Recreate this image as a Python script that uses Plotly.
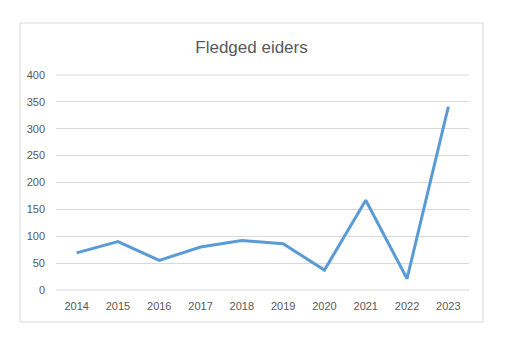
import plotly.graph_objects as go

years = ["2014", "2015", "2016", "2017", "2018", "2019", "2020", "2021", "2022", "2023"]
fledged = [69, 90, 55, 80, 92, 86, 37, 167, 21, 341]

y_ticks = [0, 50, 100, 150, 200, 250, 300, 350, 400]

fig = go.Figure()
fig.add_trace(go.Scatter(
    x=years,
    y=fledged,
    mode="lines",
    line=dict(color="#5B9BD5", width=3),
    hoverinfo="x+y",
))

tick_font = dict(family="Liberation Sans, Arial, sans-serif", size=11, color="#595959")

# gridlines at the bottom and top edges of the plot area, drawn in paper
# coordinates so they are not clipped by the plot area
edge_lines = [
    dict(type="line", xref="paper", yref="paper", x0=0, x1=1, y0=v, y1=v,
         line=dict(color="#D9D9D9", width=1), layer="below")
    for v in (0, 1)
]

fig.update_layout(
    width=510,
    height=340,
    margin=dict(l=56, r=41, t=75, b=50),
    paper_bgcolor="white",
    plot_bgcolor="white",
    showlegend=False,
    title=dict(
        text="Fledged eiders",
        x=251.5 / 510,
        xanchor="center",
        xref="container",
        y=1 - 47 / 340,
        yanchor="middle",
        font=dict(family="Liberation Sans, Arial, sans-serif", size=17, color="#595959"),
    ),
    xaxis=dict(
        type="category",
        range=[-0.5, 9.5],
        showgrid=False,
        showline=False,
        zeroline=False,
        ticks="",
        tickfont=tick_font,
        ticklabelstandoff=8,
    ),
    yaxis=dict(
        range=[y_ticks[0], y_ticks[-1]],
        tickvals=y_ticks,
        showgrid=True,
        gridcolor="#D9D9D9",
        gridwidth=1,
        zeroline=False,
        showline=False,
        ticks="",
        tickfont=tick_font,
        ticklabelstandoff=10,
    ),
    shapes=edge_lines + [
        # outer chart border
        dict(type="rect", xref="paper", yref="paper",
             x0=(20 - 56) / 413, x1=(483 - 56) / 413,
             y0=(290 - 322) / 215, y1=(290 - 23) / 215,
             line=dict(color="#D9D9D9", width=1), fillcolor="rgba(0,0,0,0)", layer="below"),
    ],
)

fig.write_html("out.html")
